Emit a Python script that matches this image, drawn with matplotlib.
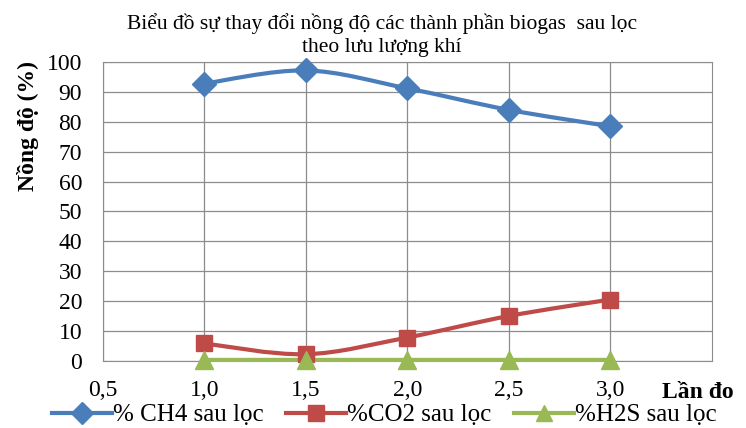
import numpy as np
import matplotlib.pyplot as plt
from matplotlib.path import Path
from matplotlib.patches import PathPatch
from matplotlib.lines import Line2D

plt.rcParams['font.family'] = ['Liberation Serif', 'DejaVu Serif']

# data
luu_luong = [1.0, 1.5, 2.0, 2.5, 3.0]
ch4 = [92.8, 97.2, 91.2, 84.0, 78.5]
co2 = [5.8, 2.2, 7.8, 15.0, 20.5]
h2s = [0.3, 0.3, 0.3, 0.3, 0.3]
x_ticks = [0.5, 1.0, 1.5, 2.0, 2.5, 3.0]
x_tick_labels = ["0,5", "1,0", "1,5", "2,0", "2,5", "3,0"]
series_names = ["% CH4 sau lọc", "%CO2 sau lọc", "%H2S sau lọc"]


def smooth_path(xs, ys, t=1 / 6):
    # Excel-style smoothed line: Catmull-Rom turned into cubic Bezier segments
    pts = np.column_stack([xs, ys])
    verts = [pts[0]]
    codes = [Path.MOVETO]
    n = len(pts)
    for i in range(n - 1):
        p0 = pts[i - 1] if i > 0 else pts[i]
        p1, p2 = pts[i], pts[i + 1]
        p3 = pts[i + 2] if i + 2 < n else pts[i + 1]
        verts += [p1 + (p2 - p0) * t, p2 - (p3 - p1) * t, p2]
        codes += [Path.CURVE4] * 3
    return Path(verts, codes)


fig = plt.figure(figsize=(7.46, 4.28), dpi=100)
ax = fig.add_axes([0.138, 0.157, 0.816, 0.698])

styles = [("#4A7EBB", "D", 12), ("#BE4B48", "s", 12), ("#98B954", "^", 13)]
handles = []
for ys, (c, m, ms), name in zip([ch4, co2, h2s], styles, series_names):
    ax.add_patch(PathPatch(smooth_path(luu_luong, ys), fill=False, edgecolor=c,
                           lw=3, zorder=3, clip_on=False))
    ax.plot(luu_luong, ys, linestyle="none", marker=m, markersize=ms, color=c,
            zorder=4, clip_on=False)
    handles.append(Line2D([], [], color=c, lw=3, marker=m, markersize=ms - 1))

ax.set_xlim(0.5, 3.5)
ax.set_ylim(0, 100)
ax.set_xticks(x_ticks)
ax.set_xticklabels(x_tick_labels)
ax.set_yticks(range(0, 101, 10))
ax.grid(True, color="#8c8c8c", lw=0.9)
ax.set_axisbelow(True)
for s in ax.spines.values():
    s.set_color("#8c8c8c")
ax.tick_params(length=0, labelsize=17)
ax.tick_params(axis="y", pad=15)
ax.tick_params(axis="x", pad=14)

fig.text(0.038, 0.705, "Nồng độ (%)", fontsize=17, fontweight="bold", rotation=90,
         ha="center", va="center")
ax.text(3.43, -10.5, "Lần đo", fontsize=17, fontweight="bold", ha="center", va="center")
fig.text(0.512, 0.918, "Biểu đồ sự thay đổi nồng độ các thành phần biogas  sau lọc\ntheo lưu lượng khí",
         ha="center", va="center", fontsize=15.5, linespacing=1.3)

fig.legend(handles, series_names, loc="center", bbox_to_anchor=(0.515, 0.03), ncol=3,
           frameon=False, fontsize=18, handlelength=2.4, columnspacing=0.9,
           handletextpad=0.05, borderpad=0)

fig.savefig("out.png", dpi=100)
